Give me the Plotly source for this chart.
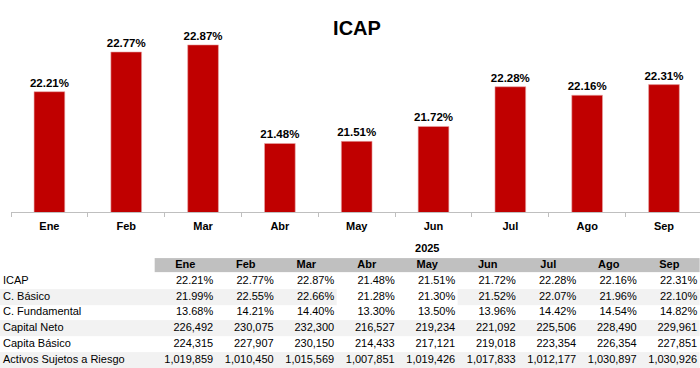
import plotly.graph_objects as go

# ---------------- data ----------------
months = ["Ene", "Feb", "Mar", "Abr", "May", "Jun", "Jul", "Ago", "Sep"]
icap = [22.21, 22.77, 22.87, 21.48, 21.51, 21.72, 22.28, 22.16, 22.31]
c_basico = [21.99, 22.55, 22.66, 21.28, 21.30, 21.52, 22.07, 21.96, 22.10]
c_fundamental = [13.68, 14.21, 14.40, 13.30, 13.50, 13.96, 14.42, 14.54, 14.82]
capital_neto = [226492, 230075, 232300, 216527, 219234, 221092, 225506, 228490, 229961]
capita_basico = [224315, 227907, 230150, 214433, 217121, 219018, 223354, 226354, 227851]
activos = [1019859, 1010450, 1015569, 1007851, 1019426, 1017833, 1012177, 1030897, 1030926]
row_labels = ["ICAP", "C. Básico", "C. Fundamental", "Capital Neto",
              "Capita Básico", "Activos Sujetos a Riesgo"]
table_year = "2025"
chart_title = "ICAP"

# shading of table cells: 0 white, 1 light gray, 2 header gray (label col + 9 months)
header_shade = [0, 2, 2, 2, 2, 2, 2, 2, 2, 2]
row_shade = [
    [0, 0, 0, 0, 0, 0, 0, 0, 0, 0],
    [1, 1, 1, 1, 0, 0, 1, 1, 1, 1],
    [0, 0, 0, 0, 0, 0, 0, 0, 0, 0],
    [1, 1, 1, 1, 1, 1, 1, 1, 1, 1],
    [0, 0, 0, 0, 0, 0, 0, 0, 0, 0],
    [1, 1, 1, 1, 1, 1, 1, 1, 1, 1],
]

# ---------------- styles ----------------
FONT = "Liberation Sans, Arial, sans-serif"
RED = "#c00000"
AXIS_GRAY = "#bfbfbf"
TXT = "#000000"

pct = lambda v: f"{v:.2f}%"
num = lambda v: f"{v:,}"
table_rows = [
    [pct(v) for v in icap],
    [pct(v) for v in c_basico],
    [pct(v) for v in c_fundamental],
    [num(v) for v in capital_neto],
    [num(v) for v in capita_basico],
    [num(v) for v in activos],
]

fig = go.Figure()

# bar chart
fig.add_trace(go.Bar(
    x=months, y=icap,
    text=[pct(v) for v in icap], textposition="outside", constraintext="none",
    textfont=dict(family=FONT, size=11.5, color=TXT, weight="bold"),
    marker=dict(color=RED, line=dict(color="#e8a8a8", width=0.6)),
    cliponaxis=False, hoverinfo="skip",
))

# table cell fills (heatmap on second axes)
n = len(months)
x_edges = [-3.2, -0.5] + [i + 0.5 for i in range(n)]
y_edges = [-1.45, -0.55] + [r + 0.5 for r in range(len(row_labels))]
fig.add_trace(go.Heatmap(
    z=[header_shade] + row_shade, x=x_edges, y=y_edges,
    zmin=0, zmax=2,
    colorscale=[[0, "#ffffff"], [0.5, "#f2f2f2"], [1, "#c0c0c0"]],
    showscale=False, hoverinfo="skip", xaxis="x2", yaxis="y2",
))

# row labels
label_x = -3.062 + 3 / 60.5
fig.add_trace(go.Scatter(
    x=[label_x] * len(row_labels), y=list(range(len(row_labels))),
    text=row_labels, mode="text", textposition="middle right",
    textfont=dict(family=FONT, size=11, color=TXT),
    xaxis="x2", yaxis="y2", hoverinfo="skip",
))

# values
vx, vy, vt = [], [], []
for r, row in enumerate(table_rows):
    for i, t in enumerate(row):
        vx.append(i + 0.5 - 2.3 / 60.5)
        vy.append(r)
        vt.append(t)
fig.add_trace(go.Scatter(
    x=vx, y=vy, text=vt, mode="text", textposition="middle left",
    textfont=dict(family=FONT, size=11, color=TXT),
    xaxis="x2", yaxis="y2", hoverinfo="skip",
))

# header months
fig.add_trace(go.Scatter(
    x=list(range(n)), y=[-1] * n, text=months, mode="text",
    textposition="middle center",
    textfont=dict(family=FONT, size=11, color=TXT, weight="bold"),
    xaxis="x2", yaxis="y2", hoverinfo="skip",
))

# year
fig.add_trace(go.Scatter(
    x=[(n - 1) / 2], y=[-2.0], text=[table_year], mode="text",
    textposition="middle center",
    textfont=dict(family=FONT, size=11, color=TXT, weight="bold"),
    xaxis="x2", yaxis="y2", hoverinfo="skip",
))

fig.update_layout(
    width=700, height=368,
    margin=dict(l=0, r=0, t=0, b=0),
    paper_bgcolor="white", plot_bgcolor="rgba(0,0,0,0)",
    showlegend=False, hovermode=False,
    bargap=0.6,
    title=dict(text=chart_title, x=0.51, xanchor="center", y=0.924, yanchor="middle",
               font=dict(family=FONT, size=20, color=TXT, weight="bold")),
    xaxis=dict(domain=[11 / 700, 1], type="category", range=[-0.5, 8.469],
               tickson="boundaries", ticks="outside", ticklen=4, tickcolor=AXIS_GRAY,
               showline=True, linecolor=AXIS_GRAY, linewidth=1, showgrid=False,
               ticklabelstandoff=4,
               tickfont=dict(family=FONT, size=11, color=TXT, weight="bold"),
               fixedrange=True),
    yaxis=dict(domain=[0.4231, 0.9185], range=[20.51, 23.08], visible=False,
               showgrid=False, zeroline=False, fixedrange=True),
    xaxis2=dict(domain=[0, 1], range=[-3.062, 8.508], visible=False, anchor="y2",
                fixedrange=True),
    yaxis2=dict(domain=[0, 0.3478], range=[5.506, -2.595], visible=False, anchor="x2",
                fixedrange=True),
)

fig.write_html(
    "out.html",
    config={"displayModeBar": False},
    post_script="document.body.style.margin='0';document.body.style.overflow='hidden';",
)
